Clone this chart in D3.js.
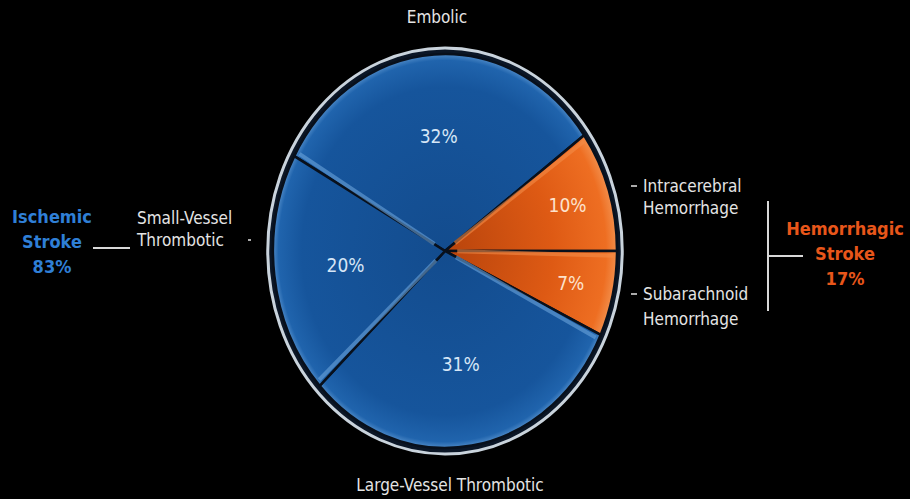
<!DOCTYPE html>
<html>
<head>
<meta charset="utf-8">
<script src="https://cdn.jsdelivr.net/npm/d3@7"></script>
<style>
  html, body { margin: 0; padding: 0; background: #000; }
  svg { display: block; }
  text { font-family: "Liberation Sans Narrow", "DejaVu Sans Condensed", "Liberation Sans", sans-serif; }
</style>
</head>
<body>
<svg id="chart"></svg>
<script>
const width = 910, height = 499;

// Stroke subtypes, in drawing order (clockwise from the upper left)
const sliceNames = ["Embolic", "Intracerebral Hemorrhage", "Subarachnoid Hemorrhage", "Large-Vessel Thrombotic", "Small-Vessel Thrombotic"];
const sliceValues = [32, 10, 7, 31, 20];
const sliceGroups = ["ischemic", "hemorrhagic", "hemorrhagic", "ischemic", "ischemic"];

// Summary groups
const groupNames = ["Ischemic", "Hemorrhagic"];
const groupValues = [83, 17];

// Pie geometry (drawn as a circle then stretched into an ellipse)
const cx = 445, cy = 251;
const ry = 205, rx = 179;
const startDeg = -61.2;

const svg = d3.select("#chart")
    .attr("width", width)
    .attr("height", height)
    .attr("viewBox", [0, 0, width, height]);

svg.append("rect").attr("width", width).attr("height", height).attr("fill", "#000");

const defs = svg.append("defs");

function radial(id, stops) {
    const grad = defs.append("radialGradient")
        .attr("id", id)
        .attr("gradientUnits", "userSpaceOnUse")
        .attr("cx", 0).attr("cy", 0).attr("r", ry);
    stops.forEach(s => grad.append("stop").attr("offset", s[0]).attr("stop-color", s[1]));
}
radial("blueFill", [[0, "#134c8e"], [0.8, "#16559c"], [0.93, "#2064ad"], [0.985, "#6fa6dc"], [1, "#a9d0f2"]]);
radial("orangeFill", [[0, "#b8440c"], [0.6, "#de5a14"], [0.9, "#ee6e22"], [0.985, "#f49a5a"], [1, "#fbc090"]]);

const fills = { ischemic: "url(#blueFill)", hemorrhagic: "url(#orangeFill)" };

const pie = d3.pie()
    .sort(null)
    .value(d => d)
    .startAngle(startDeg * Math.PI / 180)
    .endAngle(startDeg * Math.PI / 180 + 2 * Math.PI);

const arcs = pie(sliceValues);

const arc = d3.arc().innerRadius(0).outerRadius(ry - 8);

const pieG = svg.append("g")
    .attr("transform", `translate(${cx},${cy}) scale(${rx / ry},1)`);

// outer rim
pieG.append("circle")
    .attr("r", ry - 2)
    .attr("fill", "#0b1626")
    .attr("stroke", "#c9d3dc")
    .attr("stroke-width", 3)
    .attr("vector-effect", "non-scaling-stroke");

pieG.selectAll("path.slice")
    .data(arcs)
    .enter()
    .append("path")
    .attr("class", "slice")
    .attr("d", arc)
    .attr("fill", (d, i) => fills[sliceGroups[i]])
    .attr("stroke", "#08101c")
    .attr("stroke-width", 2.5)
    .attr("vector-effect", "non-scaling-stroke");

// soft highlight along the leading edge of each slice
pieG.selectAll("path.edge")
    .data(arcs)
    .enter()
    .append("path")
    .attr("class", "edge")
    .attr("d", d => {
        const a = d.startAngle + 0.025;
        const r0 = 14, r1 = ry - 12;
        return `M${r0 * Math.sin(a)},${-r0 * Math.cos(a)}L${r1 * Math.sin(a)},${-r1 * Math.cos(a)}`;
    })
    .attr("stroke", (d, i) => sliceGroups[i] === "ischemic" ? "#6aa3da" : "#f48c48")
    .attr("stroke-opacity", 0.6)
    .attr("stroke-width", 4)
    .attr("fill", "none")
    .attr("vector-effect", "non-scaling-stroke");

// percent labels
const labelArc = d => {
    const f = d.value < 15 ? 0.72 : 0.56;
    return d3.arc().innerRadius(ry * f).outerRadius(ry * f).centroid(d);
};
svg.selectAll("text.pct")
    .data(arcs)
    .enter()
    .append("text")
    .attr("class", "pct")
    .attr("x", d => cx + labelArc(d)[0] * rx / ry)
    .attr("y", d => cy + labelArc(d)[1])
    .attr("dy", "0.35em")
    .attr("text-anchor", "middle")
    .attr("fill", (d, i) => sliceGroups[i] === "ischemic" ? "#d6e6f6" : "#fde2cc")
    .attr("font-size", 19)
    .text(d => d.value + "%");

// outside slice labels
const labelColor = "#e4e4e4";
const fs = 17;

svg.append("text")
    .attr("x", cx - 8).attr("y", 23)
    .attr("text-anchor", "middle")
    .attr("fill", labelColor).attr("font-size", fs)
    .text(sliceNames[0]);

svg.append("text")
    .attr("x", cx + 5).attr("y", 491)
    .attr("text-anchor", "middle")
    .attr("fill", labelColor).attr("font-size", fs)
    .text(sliceNames[3]);

function twoLine(x, y, lines, anchor, color, size, gap) {
    const t = svg.append("text")
        .attr("x", x).attr("y", y)
        .attr("text-anchor", anchor)
        .attr("fill", color).attr("font-size", size);
    lines.forEach((l, i) => t.append("tspan").attr("x", x).attr("dy", i === 0 ? 0 : gap).text(l));
    return t;
}

twoLine(137, 224, ["Small-Vessel", "Thrombotic"], "start", labelColor, fs, 22);
svg.append("line").attr("x1", 248).attr("x2", 251).attr("y1", 240).attr("y2", 240)
    .attr("stroke", labelColor).attr("stroke-width", 1.5);

twoLine(643, 192, ["Intracerebral", "Hemorrhage"], "start", labelColor, fs, 22);
svg.append("line").attr("x1", 631).attr("x2", 637).attr("y1", 186).attr("y2", 186)
    .attr("stroke", labelColor).attr("stroke-width", 1.5);

twoLine(643, 300, ["Subarachnoid", "Hemorrhage"], "start", labelColor, fs, 25);
svg.append("line").attr("x1", 631).attr("x2", 637).attr("y1", 294).attr("y2", 294)
    .attr("stroke", labelColor).attr("stroke-width", 1.5);

// group summaries
twoLine(52, 223, [groupNames[0], "Stroke", groupValues[0] + "%"], "middle", "#2f7fd6", 18, 25)
    .attr("font-weight", "bold");
svg.append("line").attr("x1", 93).attr("x2", 130).attr("y1", 248).attr("y2", 248)
    .attr("stroke", "#d8d8d8").attr("stroke-width", 2);

twoLine(845, 235, [groupNames[1], "Stroke", groupValues[1] + "%"], "middle", "#e8561a", 18, 25)
    .attr("font-weight", "bold");
svg.append("line").attr("x1", 768).attr("x2", 768).attr("y1", 201).attr("y2", 311)
    .attr("stroke", "#d8d8d8").attr("stroke-width", 2);
svg.append("line").attr("x1", 768).attr("x2", 803).attr("y1", 256).attr("y2", 256)
    .attr("stroke", "#d8d8d8").attr("stroke-width", 2);
</script>
</body>
</html>
